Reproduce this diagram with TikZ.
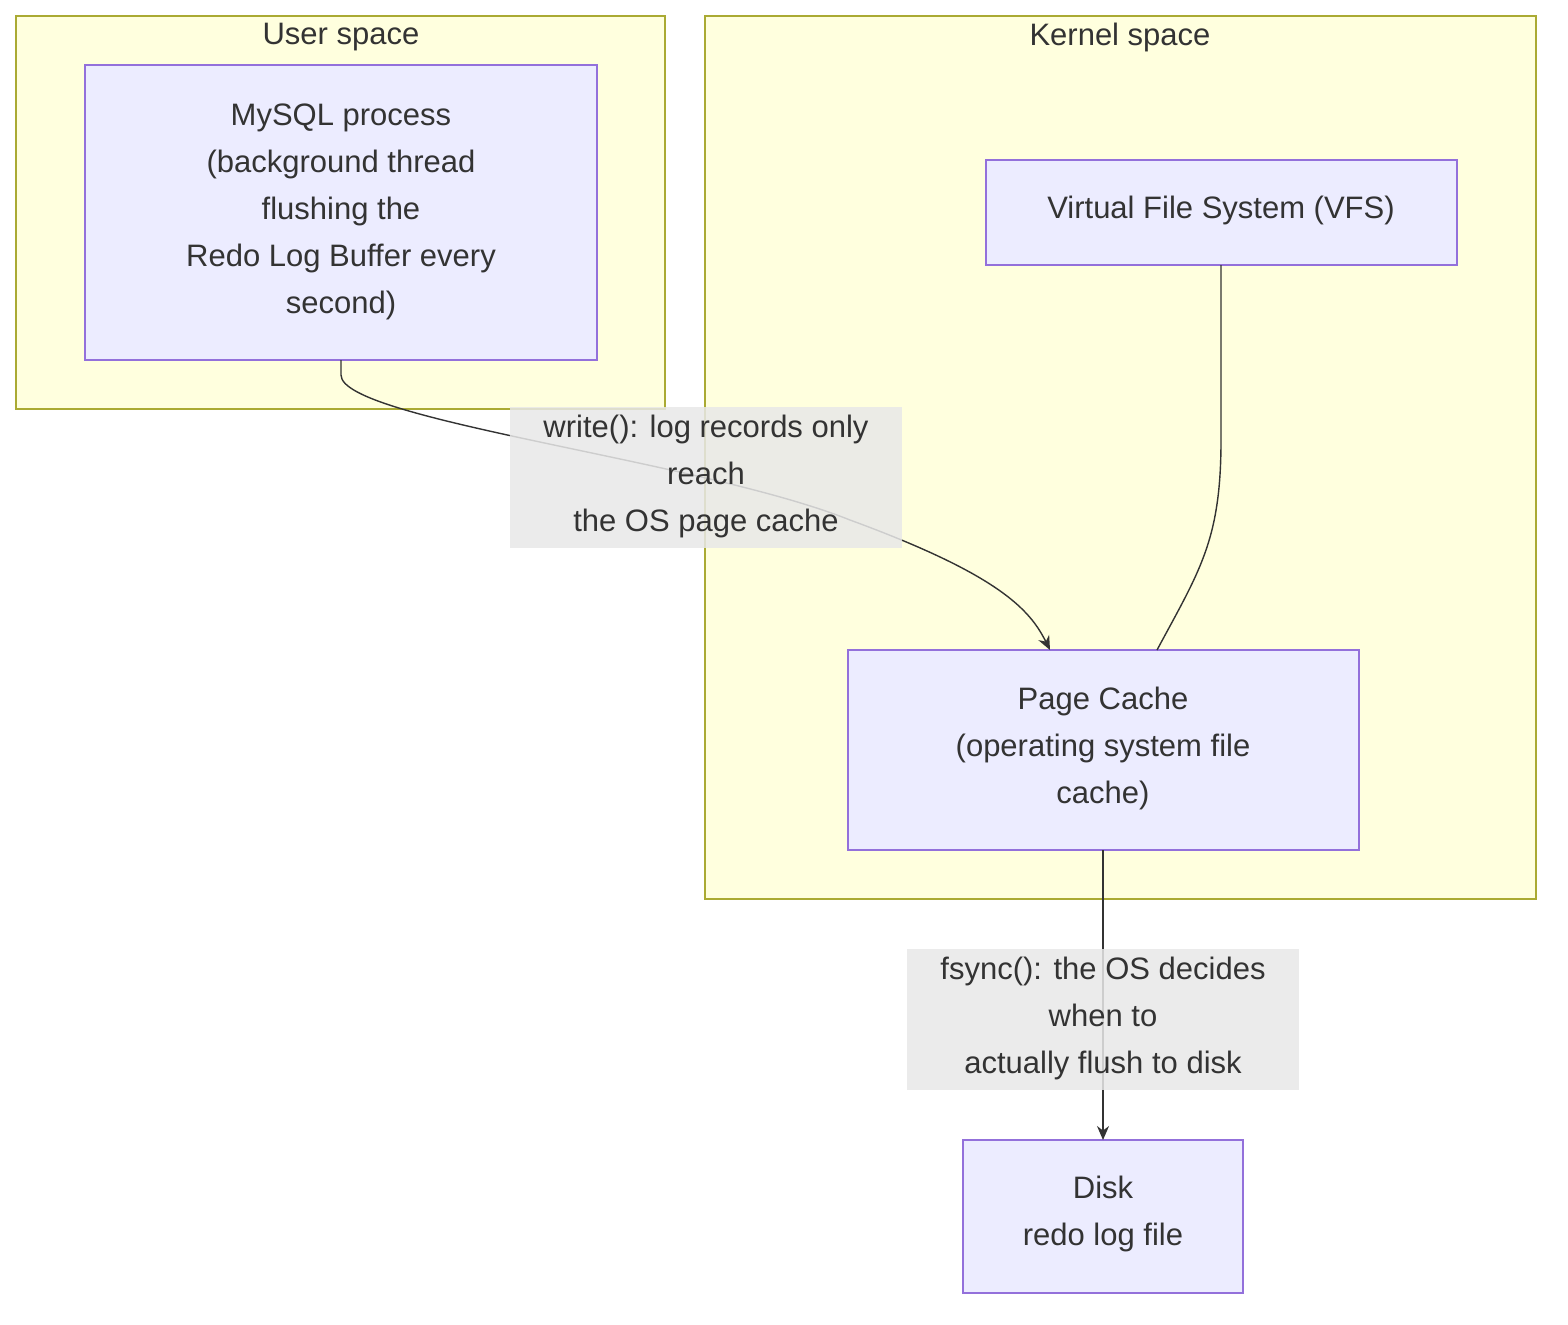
\documentclass[tikz,border=0pt]{standalone}
\usepackage{fontspec}
\setmainfont{Liberation Sans}
\usetikzlibrary{arrows.meta}
\definecolor{grpfill}{HTML}{FFFFDE}
\definecolor{grpdraw}{HTML}{AAAA33}
\definecolor{nfill}{HTML}{ECECFF}
\definecolor{ndraw}{HTML}{9370DB}
\definecolor{lbl}{HTML}{E8E8E8}
\definecolor{txt}{HTML}{333333}
\begin{document}
\begin{tikzpicture}[x=0.5pt,y=-0.5pt,
  grp/.style={draw=grpdraw,fill=grpfill,line width=0.7pt},
  nbox/.style={draw=ndraw,fill=nfill,line width=0.7pt},
  tx/.style={text=txt,align=center,font=\fontsize{15.5}{23.5}\selectfont},
  edge/.style={draw=txt,line width=0.7pt},
  arr/.style={-{Stealth[length=7pt,width=6pt]}}]
\useasboundingbox (0,0) rectangle (1568,1324);
\draw[grp] (16,16) rectangle (665,409);
\draw[grp] (705,16) rectangle (1536,899);
\node[tx] (ul) at (341,37) {User space};
\node[tx] (kl) at (1120,37) {Kernel space};
\draw[nbox] (85,65) rectangle (597,360);
\node[tx] (mysql) at (341,212) {MySQL process\\(background thread\\flushing the\\Redo Log Buffer every\\second)};
\draw[nbox] (986,160) rectangle (1457,265);
\node[tx] (vfs) at (1221,210) {Virtual File System (VFS)};
\draw[nbox] (848,650) rectangle (1359,850);
\node[tx] (pc) at (1103,748) {Page Cache\\(operating system file\\cache)};
\draw[nbox] (963,1140) rectangle (1243,1293);
\node[tx] (disk) at (1103,1214) {Disk\\redo log file};
\coordinate (a1) at (341,360);
\coordinate (a2) at (1050,650);
\coordinate (v1) at (1221,265);
\coordinate (v2) at (1157,650);
\coordinate (p1) at (1103,850);
\coordinate (p2) at (1103,1140);
\draw[edge,arr] (a1) -- (341,375) .. controls (341,420) and (700,460) .. (850,520) .. controls (1000,575) and (1030,610) .. (a2);
\draw[edge] (v1) -- (1221,440) .. controls (1221,540) and (1200,570) .. (v2);
\draw[edge,arr] (p1) -- (p2);
\fill[lbl,opacity=0.85] (510,407) rectangle (902,548);
\node[tx] (l1) at (706,476) {write(): log records only\\reach\\the OS page cache};
\fill[lbl,opacity=0.85] (907,949) rectangle (1299,1090);
\node[tx] (l2) at (1103,1018) {fsync(): the OS decides\\when to\\actually flush to disk};
\end{tikzpicture}
\end{document}
